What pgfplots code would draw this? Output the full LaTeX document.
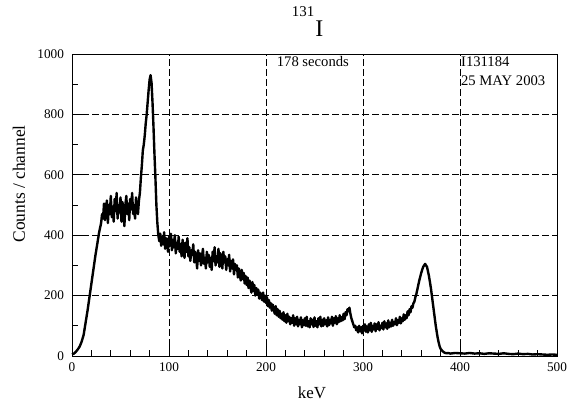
\documentclass[border=0pt]{standalone}
\usepackage{fontspec}
\setmainfont{Liberation Serif}
\usepackage{pgfplots}
\pgfplotsset{compat=1.18}

% 131I spectrum, counts per channel
\pgfplotstableread{
x y
0 5
2 8
4 14
6 22
8 32
10 48
12 70
14 110
16 150
18 195
20 240
22 285
24 330
26 370
28 410
30 440
31 470
32 455
33 505
34 450
35 490
36 515
37 440
38 500
39 470
40 530
41 460
42 495
43 445
44 520
45 480
46 540
47 455
48 500
49 475
50 525
51 445
52 510
53 480
54 430
55 500
56 530
57 470
58 505
59 450
60 520
61 485
62 540
63 470
64 500
65 455
66 525
67 490
68 470
69 515
70 540
71 590
72 630
73 680
74 700
75 730
76 770
77 800
78 840
79 880
80 915
81 930
82 905
83 840
84 760
85 670
86 590
87 500
88 440
89 400
90 380
91 405
92 365
93 395
94 370
95 410
96 355
97 390
98 375
99 345
100 395
101 365
102 405
103 350
104 385
105 360
106 400
107 340
108 375
109 355
110 395
111 345
112 370
113 330
114 385
115 350
116 325
117 375
118 345
119 390
120 330
121 360
122 315
123 350
124 335
125 370
126 310
127 345
128 325
129 290
130 350
131 315
132 340
133 300
134 330
135 355
136 305
137 325
138 290
139 345
140 310
141 335
142 295
143 325
144 285
145 345
146 315
147 360
148 300
149 330
150 310
151 355
152 295
153 340
154 320
155 290
156 345
157 310
158 330
159 285
160 320
161 300
162 335
163 280
164 315
165 290
166 320
167 270
168 305
169 285
170 300
171 260
172 290
173 270
174 250
175 285
176 255
177 275
178 240
179 265
180 235
181 260
182 225
183 250
184 230
185 210
186 245
187 215
188 235
189 200
190 225
191 205
192 220
193 190
194 210
195 195
196 185
197 210
198 180
199 200
200 175
201 195
202 165
203 185
204 160
205 175
206 150
207 170
208 155
209 140
210 165
211 135
212 155
213 130
214 150
215 125
216 140
217 120
218 145
219 115
220 135
221 110
222 140
223 115
224 130
225 105
226 125
227 110
228 135
229 100
230 125
231 105
232 130
233 98
234 120
235 105
236 128
237 95
238 118
239 102
240 125
241 100
242 130
243 98
244 115
245 95
246 125
247 105
248 120
249 96
250 128
251 100
252 115
253 95
254 125
255 105
256 130
257 98
258 120
259 100
260 125
261 105
262 118
263 98
264 128
265 102
266 120
267 108
268 130
269 100
270 125
271 110
272 132
273 105
274 125
275 112
276 135
277 115
278 128
279 118
280 140
281 122
282 145
283 135
284 155
285 148
286 160
287 140
288 125
289 115
290 105
291 95
292 100
293 85
294 95
295 78
296 100
297 82
298 95
299 75
300 100
301 85
302 105
303 80
304 98
305 78
306 105
307 85
308 110
309 80
310 100
311 88
312 108
313 82
314 105
315 90
316 112
317 85
318 100
319 92
320 110
321 88
322 115
323 95
324 108
325 90
326 118
327 95
328 110
329 98
330 120
331 100
332 112
333 105
334 125
335 102
336 118
337 110
338 130
339 108
340 125
341 115
342 138
343 120
344 135
345 125
346 148
347 135
348 155
349 145
350 165
351 160
352 175
353 180
354 195
355 205
356 220
357 235
358 250
359 262
360 275
361 285
362 295
363 300
364 305
365 300
366 295
367 280
368 265
369 245
370 225
371 200
372 175
373 150
374 125
375 100
376 80
377 60
378 45
379 32
380 24
382 16
384 11
386 9
388 10
390 8
395 10
400 9
405 8
410 10
415 8
420 9
425 7
430 9
435 8
440 7
445 9
450 7
455 6
460 8
465 6
470 7
475 5
480 6
485 5
490 4
495 5
500 4
}\spectrum

\begin{document}
\begin{tikzpicture}
\begin{axis}[
    name=main,
    at={(0,0)}, anchor=south west,
    scale only axis,
    width=485bp, height=302bp,
    xmin=0, xmax=500, ymin=0, ymax=1000,
    xtick={0,100,...,500}, ytick={0,200,...,1000},
    minor x tick num=4, minor y tick num=1,
    tick align=inside,
    xtick pos=bottom, ytick pos=left,
    major tick length=10bp, minor tick length=6bp,
    tick style={black, line width=0.8pt},
    grid=major,
    major grid style={black, line width=0.7pt, dash pattern=on 6.5bp off 3.5bp},
    axis line style={black, line width=0.7pt},
    /pgf/number format/assume math mode=true,
    /pgf/number format/1000 sep={},
    ticklabel style={font=\fontsize{13.3}{15}\selectfont},
    yticklabel style={xshift=-4.5bp},
    xticklabel style={yshift=-3bp},
    clip=false,
]
\addplot[black, line width=2.4pt, line join=round] table[x=x,y=y] {\spectrum};
\node[anchor=base west, inner sep=0, font=\fontsize{14.7}{16}\selectfont] at (axis cs:211,958) {178 seconds};
\node[anchor=base west, inner sep=0, font=\fontsize{14.7}{16}\selectfont] at (axis cs:401,958) {I131184};
\node[anchor=base west, inner sep=0, font=\fontsize{14.7}{16}\selectfont] at (axis cs:401,897) {25 MAY 2003};
\node[anchor=base west, inner sep=0] at ([yshift=17.3bp]axis cs:226.5,1000)
  {\fontsize{15}{16}\selectfont\raisebox{20bp}{131}\kern1bp\fontsize{24}{26}\selectfont I};
\node[anchor=base, inner sep=0, font=\fontsize{17}{18}\selectfont] at ([yshift=-42bp]rel axis cs:0.495,0) {keV};
\node[rotate=90, inner sep=0, font=\fontsize{17.5}{18}\selectfont] at ([xshift=-53bp]rel axis cs:0,0.57) {Counts / channel};
\end{axis}
\path (main.south west) ++(-72bp,-48bp) rectangle ([xshift=14bp, yshift=54bp]main.north east);
\end{tikzpicture}
\end{document}
